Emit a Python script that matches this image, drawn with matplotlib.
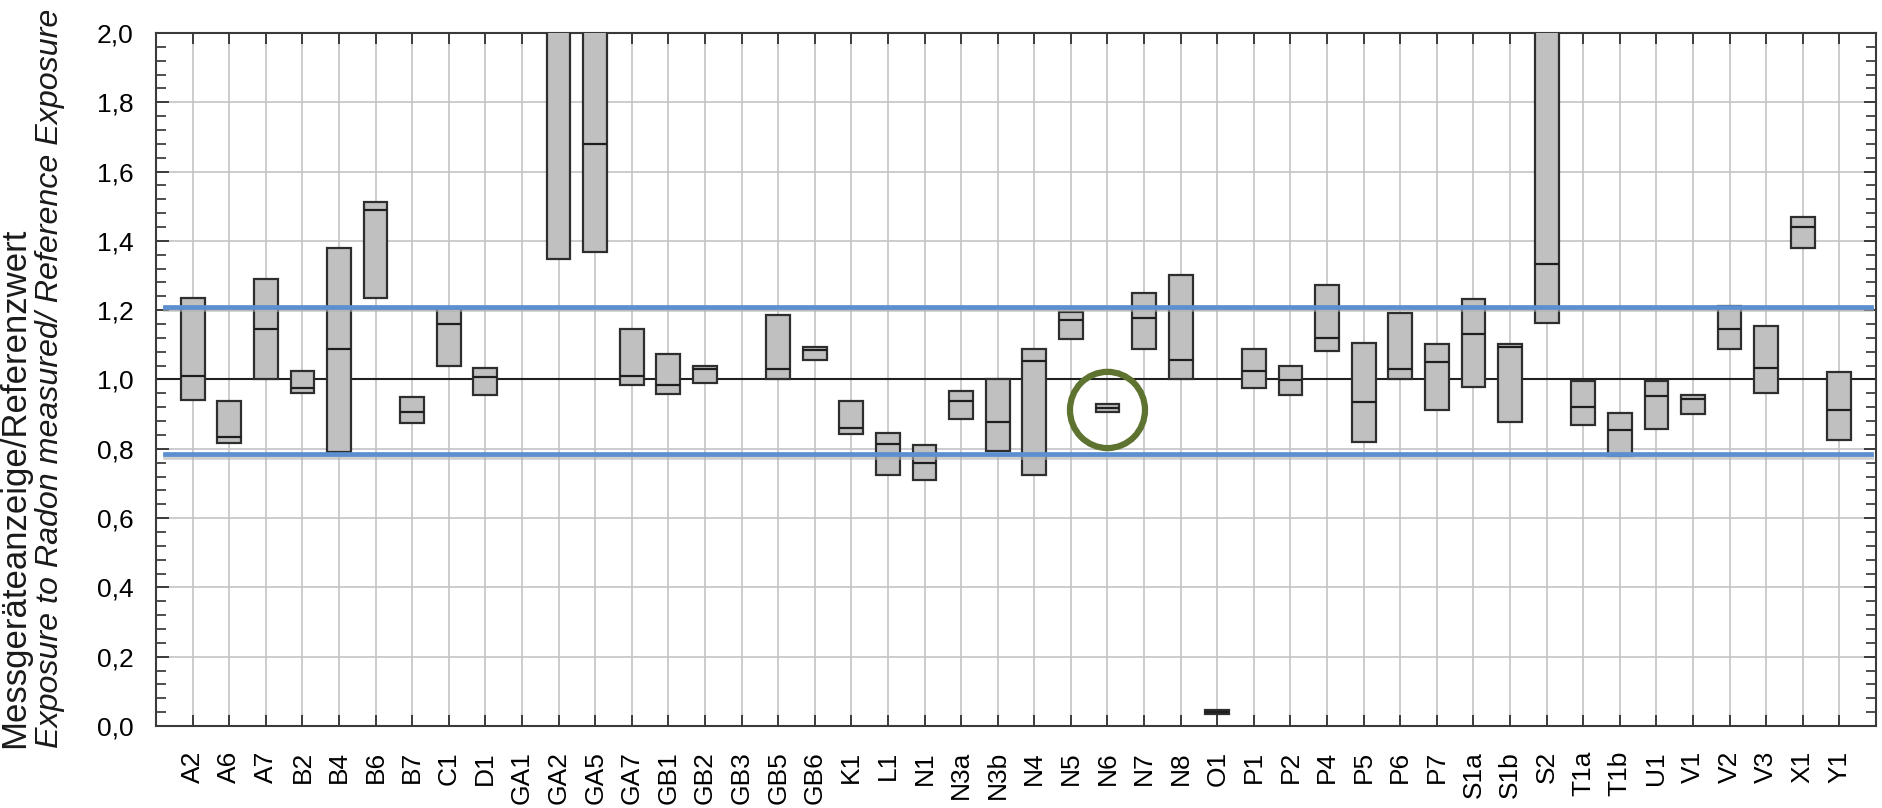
import matplotlib
matplotlib.use("Agg")
import matplotlib.pyplot as plt
import matplotlib.patheffects as pe
from matplotlib.patches import Ellipse
from matplotlib.ticker import FuncFormatter, MultipleLocator
import numpy as np

plt.rcParams['font.family'] = ['Liberation Sans', 'DejaVu Sans']

# instrument codes along the x axis
labels = ["A2", "A6", "A7", "B2", "B4", "B6", "B7", "C1", "D1", "GA1",
          "GA2", "GA5", "GA7", "GB1", "GB2", "GB3", "GB5", "GB6", "K1", "L1",
          "N1", "N3a", "N3b", "N4", "N5", "N6", "N7", "N8", "O1", "P1",
          "P2", "P4", "P5", "P6", "P7", "S1a", "S1b", "S2", "T1a", "T1b",
          "U1", "V1", "V2", "V3", "X1", "Y1"]

nan = np.nan
# lower / upper edge of each box and the line inside it (ratio to reference)
box_low = [0.94, 0.817, 1.00, 0.96, 0.79, 1.236, 0.873, 1.039, 0.954, nan,
           1.348, 1.369, 0.983, 0.959, 0.99, nan, 1.00, 1.055, 0.843, 0.725,
           0.71, 0.886, 0.793, 0.725, 1.118, 0.906, 1.089, 1.00, 0.035, 0.976,
           0.954, 1.081, 0.821, 1.002, 0.912, 0.978, 0.877, 1.163, 0.870, 0.78,
           0.857, 0.901, 1.089, 0.960, 1.380, 0.824]
box_high = [1.236, 0.937, 1.291, 1.025, 1.379, 1.513, 0.948, 1.205, 1.033, nan,
            2.2, 2.2, 1.147, 1.074, 1.040, nan, 1.187, 1.093, 0.937, 0.845,
            0.812, 0.968, 1.00, 1.089, 1.195, 0.928, 1.25, 1.301, 0.045, 1.087,
            1.038, 1.274, 1.105, 1.192, 1.103, 1.233, 1.103, 2.2, 0.997, 0.903,
            0.997, 0.956, 1.212, 1.154, 1.469, 1.023]
box_mid = [1.009, 0.835, 1.145, 0.975, 1.089, 1.489, 0.907, 1.161, 1.007, nan,
           nan, 1.679, 1.009, 0.983, 1.031, nan, 1.031, 1.084, 0.860, 0.815,
           0.76, 0.939, 0.877, 1.053, 1.171, 0.917, 1.177, 1.055, 0.04, 1.024,
           0.999, 1.120, 0.934, 1.03, 1.05, 1.130, 1.093, 1.332, 0.920, 0.854,
           0.951, 0.944, 1.145, 1.034, 1.44, 0.912]

limit_low = 0.785
limit_high = 1.21
marked = "N6"

x = np.arange(len(labels))
low = np.array(box_low)
high = np.array(box_high)
mid = np.array(box_mid)
w = 0.65

fig = plt.figure(figsize=(18.82, 8.08), dpi=100)
ax = fig.add_axes([0.0829, 0.1015, 0.9139, 0.8577])

# grid
ax.set_axisbelow(True)
ax.grid(True, axis='both', which='major', color='#c4c4c4', lw=1.2)
ax.axhline(1.0, color='#202020', lw=1.5, zorder=1.5)

# boxes
ax.bar(x, high - low, bottom=low, width=w, color='#c0c0c0',
       edgecolor='#2e2e2e', lw=1.6, zorder=3)
ax.hlines(mid, x - w / 2, x + w / 2, color='#1e1e1e', lw=1.6, zorder=4)

# tolerance lines
shadow = [pe.SimpleLineShadow(offset=(0, -2), shadow_color='#b0b0b0', alpha=0.6), pe.Normal()]
for yv in (limit_low, limit_high):
    ax.plot([0.005, 0.997], [yv, yv], color='#5b8fcf', lw=3.4,
            transform=ax.get_yaxis_transform(), zorder=5, path_effects=shadow)

# highlight ring
i = labels.index(marked)
ax.add_patch(Ellipse((x[i], mid[i] - 0.005), width=2.05, height=0.22, fill=False,
                     edgecolor='#5f7331', lw=4.5, zorder=6))

ax.set_xlim(-1, len(labels))
ax.set_ylim(0, 2.0)
ax.set_xticks(x)
ax.set_xticklabels(labels, rotation=90, fontsize=19)
ax.yaxis.set_major_locator(MultipleLocator(0.2))
ax.yaxis.set_minor_locator(MultipleLocator(0.04))
ax.yaxis.set_major_formatter(FuncFormatter(lambda v, p: f"{v:.1f}".replace('.', ',')))
ax.tick_params(axis='y', which='major', labelsize=19, direction='in', length=9,
               width=1.3, right=True, pad=16, color='#303030')
ax.tick_params(axis='y', which='minor', direction='in', length=7, width=1.2,
               right=True, color='#303030')
ax.tick_params(axis='x', direction='in', length=8, width=1.3, top=True, pad=18,
               color='#303030')
for s in ax.spines.values():
    s.set_color('#3a3a3a')
    s.set_linewidth(1.5)

# two-line axis title, start aligned at bottom
fig.text(0.008, 0.074, "Messgeräteanzeige/Referenzwert", rotation=90,
         rotation_mode='anchor', ha='left', va='center', fontsize=25, color='#1a1a1a')
fig.text(0.0268, 0.074, "Exposure to Radon measured/ Reference Exposure", rotation=90,
         rotation_mode='anchor', ha='left', va='center', fontsize=23.2, style='italic',
         color='#1a1a1a')

fig.savefig("out.png", dpi=100)
